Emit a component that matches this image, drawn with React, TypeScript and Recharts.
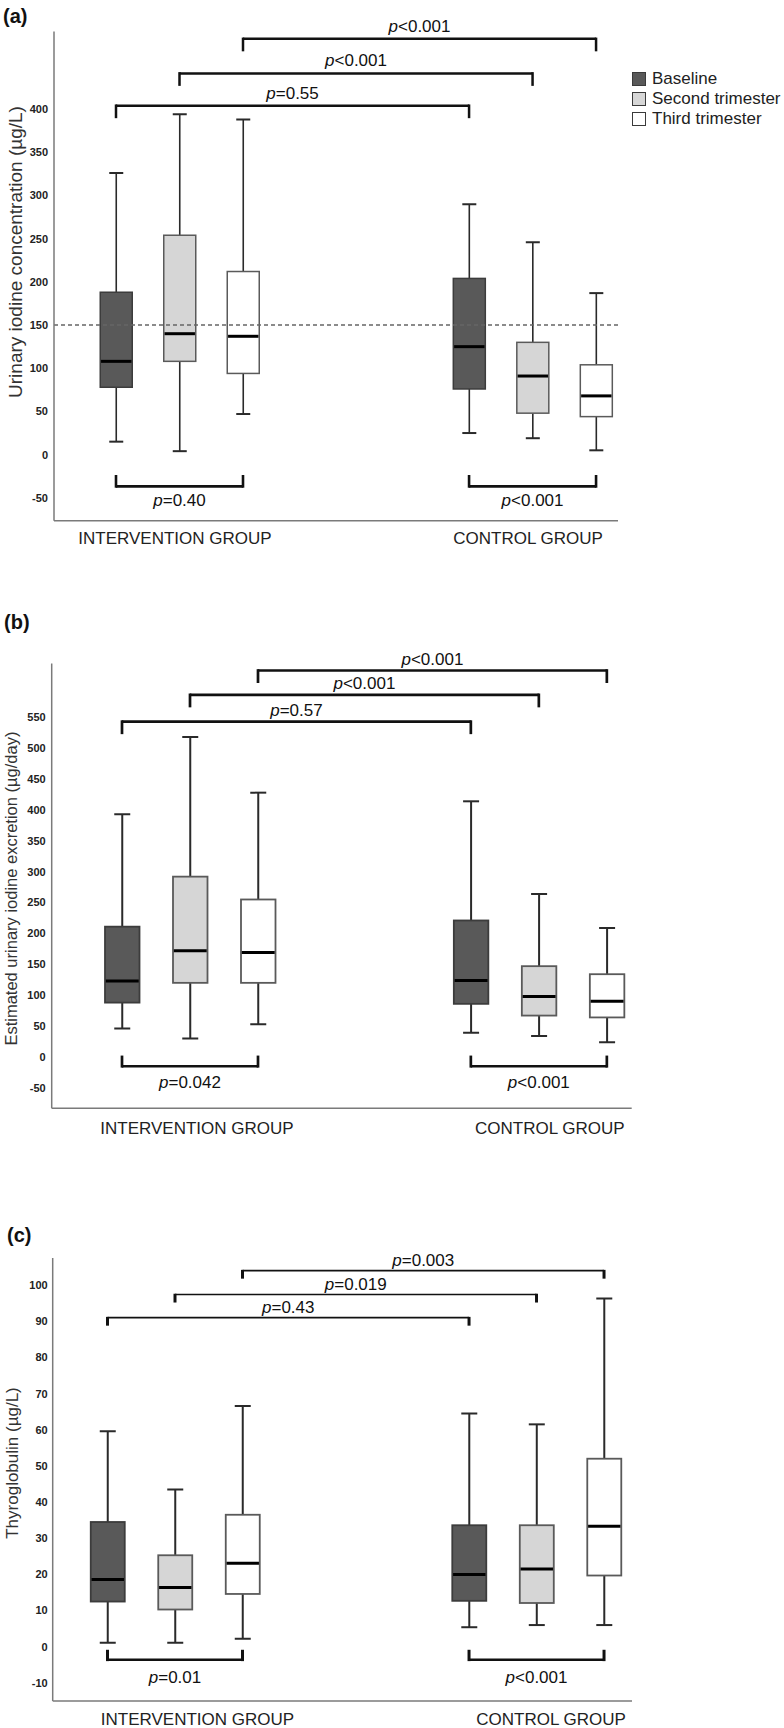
import React from "react";
import { ComposedChart, Bar, XAxis, YAxis, ReferenceLine, Legend } from "recharts";

const FONT = '"Liberation Sans", Arial, Helvetica, sans-serif';
const W = 784;
const Y_W = 44;
const X_H = 25;

const groups = ["INTERVENTION GROUP", "CONTROL GROUP"];
const stages = ["Baseline", "Second trimester", "Third trimester"];
const stageFill = ["#595959", "#d6d6d6", "#ffffff"];
const stageStroke = ["#3c3c3c", "#5a5a5a", "#5a5a5a"];

// every list: intervention baseline, 2nd, 3rd trimester, then control baseline, 2nd, 3rd
// (a) urinary iodine concentration, µg/L
const uicMin = [15, 4, 47, 25, 19, 5];
const uicQ1 = [78, 108, 94, 76, 48, 44];
const uicMedian = [108, 140, 137, 125, 91, 68];
const uicQ3 = [188, 254, 212, 204, 130, 104];
const uicMax = [326, 394, 388, 290, 246, 187];
const uicTicks = [-50, 0, 50, 100, 150, 200, 250, 300, 350, 400];
const uicBetween = ["p=0.55", "p<0.001", "p<0.001"];
const uicWithin = ["p=0.40", "p<0.001"];

// (b) estimated urinary iodine excretion, µg/day
const euieMin = [46, 30, 53, 39, 34, 24];
const euieQ1 = [88, 120, 120, 86, 67, 64];
const euieMedian = [123, 172, 169, 124, 98, 90];
const euieQ3 = [211, 292, 255, 221, 147, 134];
const euieMax = [393, 518, 428, 414, 264, 209];
const euieTicks = [-50, 0, 50, 100, 150, 200, 250, 300, 350, 400, 450, 500, 550];
const euieBetween = ["p=0.57", "p<0.001", "p<0.001"];
const euieWithin = ["p=0.042", "p<0.001"];

// (c) thyroglobulin, µg/L
const tgMin = [1.1, 1.1, 2.2, 5.4, 6.0, 6.0];
const tgQ1 = [12.5, 10.3, 14.6, 12.7, 12.1, 19.7];
const tgMedian = [18.6, 16.4, 23.1, 20.0, 21.5, 33.3];
const tgQ3 = [34.5, 25.3, 36.5, 33.6, 33.6, 52.0];
const tgMax = [59.6, 43.5, 66.6, 64.5, 61.5, 96.3];
const tgTicks = [-10, 0, 10, 20, 30, 40, 50, 60, 70, 80, 90, 100];
const tgBetween = ["p=0.43", "p=0.019", "p=0.003"];
const tgWithin = ["p=0.01", "p<0.001"];

type PanelSpec = {
  letter: string;
  letterX: number;
  letterY: number;
  top: number;
  height: number;
  title: string;
  titleSize: number;
  titleX: number;
  titleY: number;
  min: number[];
  q1: number[];
  median: number[];
  q3: number[];
  max: number[];
  ticks: number[];
  domain: [number, number];
  between: string[];
  within: string[];
  betweenLevels: number[];
  withinLevel: number;
  plotLeft: number;
  plotRight: number;
  plotTop: number;
  plotBottom: number;
  firstBox: number;
  step: number;
  groupGap: number;
  boxWidth: number;
  capWidth: number;
  boxStroke: number;
  whiskerWidth: number;
  drop: number;
  textUp: number;
  rise: number;
  textDown: number;
  betweenH: number;
  betweenEnd: number;
  withinH: number;
  withinEnd: number;
  labelShift: number[];
  labelY: number;
  tickGap: number;
  threshold?: number;
  legend?: boolean;
};

const panels: PanelSpec[] = [
  {
    letter: "(a)", letterX: 3, letterY: 16, top: 0, height: 560,
    title: "Urinary iodine concentration (\u00b5g/L)", titleSize: 19, titleX: 15, titleY: 252,
    min: uicMin, q1: uicQ1, median: uicMedian, q3: uicQ3, max: uicMax,
    ticks: uicTicks, domain: [-76.5, 490],
    between: uicBetween, within: uicWithin, betweenLevels: [404, 441.4, 481.4], withinLevel: -36.8,
    plotLeft: 54, plotRight: 618, plotTop: 31.4, plotBottom: 520.7,
    firstBox: 116, step: 63.5, groupGap: 5.56, boxWidth: 32, capWidth: 14,
    boxStroke: 1.5, whiskerWidth: 1.6,
    drop: 12.5, textUp: 13, rise: 11.4, textDown: 13.6,
    betweenH: 2.5, betweenEnd: 2.5, withinH: 2.6, withinEnd: 2.6,
    labelShift: [-4.5, -4.5], labelY: 537.5, tickGap: 6, threshold: 150, legend: true,
  },
  {
    letter: "(b)", letterX: 4, letterY: 622, top: 600, height: 540,
    title: "Estimated urinary iodine excretion (\u00b5g/day)", titleSize: 16.5, titleX: 11, titleY: 888.6,
    min: euieMin, q1: euieQ1, median: euieMedian, q3: euieQ3, max: euieMax,
    ticks: euieTicks, domain: [-83, 637],
    between: euieBetween, within: euieWithin, betweenLevels: [543, 586.4, 625.8], withinLevel: -15.1,
    plotLeft: 51.7, plotRight: 631.7, plotTop: 663.6, plotBottom: 1108.2,
    firstBox: 122, step: 68, groupGap: 5.13, boxWidth: 34.5, capWidth: 16,
    boxStroke: 1.8, whiskerWidth: 2,
    drop: 12.5, textUp: 12, rise: 10.7, textDown: 15.5,
    betweenH: 2.7, betweenEnd: 2.7, withinH: 2.7, withinEnd: 2.7,
    labelShift: [7, 11], labelY: 1128, tickGap: 6,
  },
  {
    letter: "(c)", letterX: 7, letterY: 1235, top: 1190, height: 538,
    title: "Thyroglobulin (\u00b5g/L)", titleSize: 17, titleX: 12.5, titleY: 1463,
    min: tgMin, q1: tgQ1, median: tgMedian, q3: tgQ3, max: tgMax,
    ticks: tgTicks, domain: [-15, 107.5],
    between: tgBetween, within: tgWithin, betweenLevels: [91, 97.4, 104], withinLevel: -3.6,
    plotLeft: 52.7, plotRight: 632, plotTop: 1258, plotBottom: 1701,
    firstBox: 107.5, step: 67.5, groupGap: 5.356, boxWidth: 34, capWidth: 16,
    boxStroke: 1.8, whiskerWidth: 2,
    drop: 8, textUp: 10.5, rise: 10, textDown: 17.5,
    betweenH: 1.6, betweenEnd: 3, withinH: 2.7, withinEnd: 3,
    labelShift: [22.5, 14.5], labelY: 1719, tickGap: 5,
  },
];

function pText(t: string, x: number, y: number) {
  return (
    <text x={x} y={y} textAnchor="middle" fontSize={17} fontFamily={FONT} fill="#111">
      <tspan fontStyle="italic">{t[0]}</tspan>
      <tspan>{t.slice(1)}</tspan>
    </text>
  );
}

function makeBoxShape(s: PanelSpec) {
  return (props: any) => {
    const { x, y, width, height, payload } = props;
    if (!payload || !Number.isFinite(height)) return <g />;
    const top = Math.min(y, y + height);
    const h = Math.abs(height);
    const perUnit = h / (payload.q3 - payload.q1);
    const py = (v: number) => top + (payload.q3 - v) * perUnit;
    const cx = x + width / 2;
    const half = s.capWidth / 2;
    const k = payload.stage;
    const hi = py(payload.max);
    const lo = py(payload.min);
    return (
      <g>
        <line x1={cx} x2={cx} y1={hi} y2={top} stroke="#2a2a2a" strokeWidth={s.whiskerWidth} />
        <line x1={cx} x2={cx} y1={top + h} y2={lo} stroke="#2a2a2a" strokeWidth={s.whiskerWidth} />
        <line x1={cx - half} x2={cx + half} y1={hi} y2={hi} stroke="#2a2a2a" strokeWidth={2} />
        <line x1={cx - half} x2={cx + half} y1={lo} y2={lo} stroke="#2a2a2a" strokeWidth={2} />
        <rect x={x} y={top} width={width} height={h} fill={stageFill[k]} stroke={stageStroke[k]} strokeWidth={s.boxStroke} />
        <line x1={x + 0.8} x2={x + width - 0.8} y1={py(payload.median)} y2={py(payload.median)} stroke="#000" strokeWidth={3} />
      </g>
    );
  };
}

function makeBracket(s: PanelSpec, text: string, down: boolean) {
  return (props: any) => {
    const { x1, x2, y1 } = props;
    if (!Number.isFinite(x1) || !Number.isFinite(y1)) return <g />;
    const hw = down ? s.betweenH : s.withinH;
    const ew = down ? s.betweenEnd : s.withinEnd;
    const start = down ? y1 - hw / 2 : y1 + hw / 2;
    const end = down ? y1 + s.drop : y1 - s.rise;
    const ty = down ? y1 - s.textUp + 6 : y1 + s.textDown + 6;
    return (
      <g>
        <line x1={x1} x2={x2} y1={y1} y2={y1} stroke="#111" strokeWidth={hw} />
        <line x1={x1} x2={x1} y1={start} y2={end} stroke="#111" strokeWidth={ew} />
        <line x1={x2} x2={x2} y1={start} y2={end} stroke="#111" strokeWidth={ew} />
        {pText(text, (x1 + x2) / 2, ty)}
      </g>
    );
  };
}

function StageLegend() {
  return (
    <div style={{ fontFamily: FONT, fontSize: 17, color: "#222" }}>
      {stages.map((name, i) => (
        <div key={name} style={{ display: "flex", alignItems: "center", height: 20 }}>
          <span
            style={{
              display: "inline-block",
              width: 12,
              height: 12,
              background: stageFill[i],
              border: "1.5px solid #3a3a3a",
              marginRight: 6,
            }}
          />
          <span>{name}</span>
        </div>
      ))}
    </div>
  );
}

function Panel({ s }: { s: PanelSpec }) {
  const rows = s.min.map((_, i) => {
    const g = Math.floor(i / 3);
    const k = i % 3;
    return {
      slot: g * s.groupGap + k,
      stage: k,
      min: s.min[i],
      q1: s.q1[i],
      median: s.median[i],
      q3: s.q3[i],
      max: s.max[i],
      box: [s.q1[i], s.q3[i]],
    };
  });
  const margin = {
    top: s.plotTop - s.top,
    left: s.plotLeft - Y_W,
    right: W - s.plotRight,
    bottom: s.height - (s.plotBottom - s.top) - X_H,
  };
  const xDomain: [number, number] = [(s.plotLeft - s.firstBox) / s.step, (s.plotRight - s.firstBox) / s.step];
  const titleY = s.titleY - s.top;
  const labelBase = s.labelY - s.top + 6;

  return (
    <div style={{ position: "absolute", left: 0, top: s.top }}>
      <div
        style={{
          position: "absolute",
          left: s.letterX,
          top: s.letterY - s.top - 12,
          fontFamily: FONT,
          fontWeight: 700,
          fontSize: 20,
          lineHeight: "24px",
          color: "#111",
        }}
      >
        {s.letter}
      </div>
      <ComposedChart width={W} height={s.height} data={rows} margin={margin}>
        <XAxis
          type="number"
          dataKey="slot"
          domain={xDomain}
          allowDataOverflow
          ticks={[1, s.groupGap + 1]}
          interval={0}
          height={X_H}
          tickLine={false}
          tickSize={0}
          axisLine={{ stroke: "#7a7a7a", strokeWidth: 1.5 }}
          tick={(p: any) => (
            <text
              x={p.x + s.labelShift[p.index]}
              y={labelBase}
              textAnchor="middle"
              fontSize={17}
              fontFamily={FONT}
              fill="#222"
            >
              {groups[p.index]}
            </text>
          )}
        />
        <YAxis
          type="number"
          domain={s.domain}
          allowDataOverflow
          ticks={s.ticks}
          interval={0}
          width={Y_W}
          tickLine={false}
          tickSize={0}
          tickMargin={s.tickGap}
          axisLine={{ stroke: "#7a7a7a", strokeWidth: 1.5 }}
          tick={{ fontSize: 11, fontWeight: 700, fill: "#222", fontFamily: FONT }}
          label={() => (
            <text
              x={s.titleX}
              y={titleY}
              transform={`rotate(-90 ${s.titleX} ${titleY})`}
              textAnchor="middle"
              dominantBaseline="central"
              fontSize={s.titleSize}
              fontFamily={FONT}
              fill="#333"
            >
              {s.title}
            </text>
          )}
        />
        <Bar dataKey="box" barSize={s.boxWidth} isAnimationActive={false} shape={makeBoxShape(s)} />
        {s.threshold != null && (
          <ReferenceLine y={s.threshold} stroke="#666" strokeWidth={1.5} strokeDasharray="4 3" />
        )}
        {s.between.map((t, k) => (
          <ReferenceLine
            key={"between" + k}
            ifOverflow="visible"
            segment={[
              { x: k, y: s.betweenLevels[k] },
              { x: s.groupGap + k, y: s.betweenLevels[k] },
            ]}
            shape={makeBracket(s, t, true)}
          />
        ))}
        {s.within.map((t, g) => (
          <ReferenceLine
            key={"within" + g}
            ifOverflow="visible"
            segment={[
              { x: g * s.groupGap, y: s.withinLevel },
              { x: g * s.groupGap + 2, y: s.withinLevel },
            ]}
            shape={makeBracket(s, t, false)}
          />
        ))}
        {s.legend && (
          <Legend
            layout="vertical"
            align="center"
            verticalAlign="middle"
            wrapperStyle={{ left: 632, top: 68.6, width: 150 }}
            content={() => <StageLegend />}
          />
        )}
      </ComposedChart>
    </div>
  );
}

export default function App() {
  return (
    <div
      style={{
        position: "absolute",
        left: 0,
        top: 0,
        width: W,
        height: 1728,
        background: "#fff",
        fontFamily: FONT,
      }}
    >
      {panels.map((p) => (
        <Panel key={p.letter} s={p} />
      ))}
    </div>
  );
}
